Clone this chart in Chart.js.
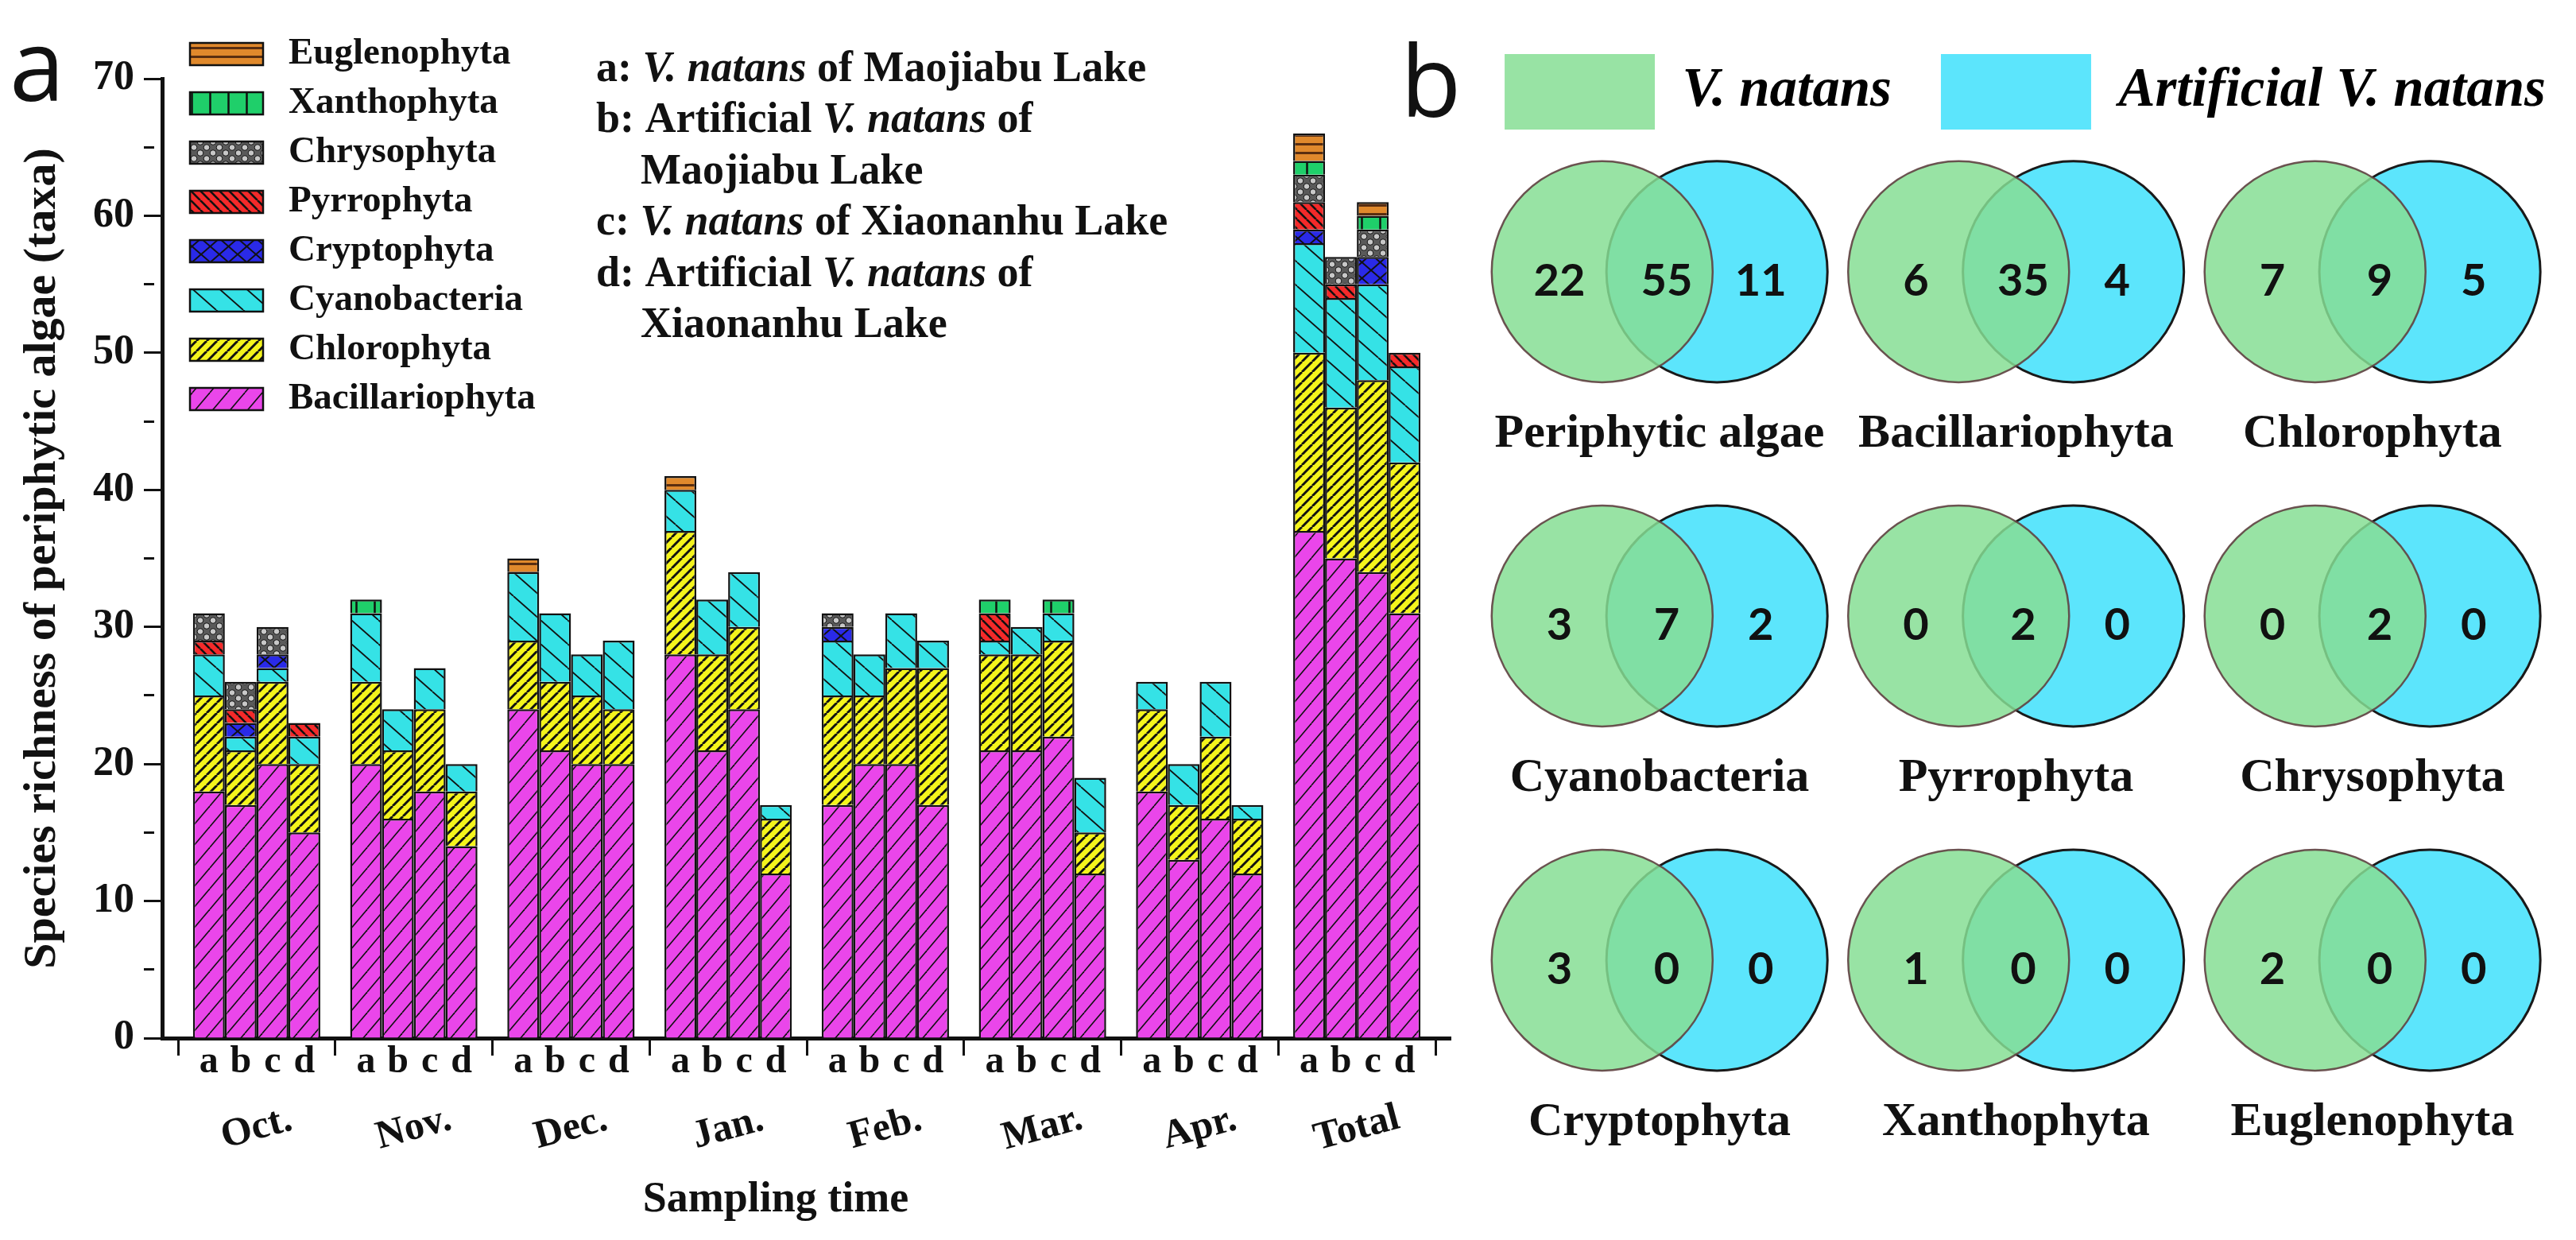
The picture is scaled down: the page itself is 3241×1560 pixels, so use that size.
<!DOCTYPE html>
<html>
<head>
<meta charset="utf-8">
<script src="https://cdn.jsdelivr.net/npm/chart.js@4/dist/chart.umd.min.js"></script>
<style>
  html, body { margin: 0; padding: 0; background: #fff; overflow: hidden; }
  #page { position: relative; width: 3241px; height: 1560px; overflow: hidden; }
  .box { position: absolute; top: 0; height: 1560px; }
</style>
</head>
<body>
<div id="page">
  <div class="box" style="left:0;width:1860px"><canvas id="barChart"></canvas></div>
  <div class="box" style="left:1700px;width:1580px"><canvas id="vennChart"></canvas></div>
</div>
<script>
const months = ['Oct.', 'Nov.', 'Dec.', 'Jan.', 'Feb.', 'Mar.', 'Apr.', 'Total']
const sites = ['a', 'b', 'c', 'd']

// one row per site (a, b, c, d), one column per month
const bacillariophyta = [
  [18, 20, 24, 28, 17, 21, 18, 37],
  [17, 16, 21, 21, 20, 21, 13, 35],
  [20, 18, 20, 24, 20, 22, 16, 34],
  [15, 14, 20, 12, 17, 12, 12, 31]
]
const chlorophyta = [
  [7, 6, 5, 9, 8, 7, 6, 13],
  [4, 5, 5, 7, 5, 7, 4, 11],
  [6, 6, 5, 6, 7, 7, 6, 14],
  [5, 4, 4, 4, 10, 3, 4, 11]
]
const cyanobacteria = [
  [3, 5, 5, 3, 4, 1, 2, 8],
  [1, 3, 5, 4, 3, 2, 3, 8],
  [1, 3, 3, 4, 4, 2, 4, 7],
  [2, 2, 5, 1, 2, 4, 1, 7]
]
const cryptophyta = [
  [0, 0, 0, 0, 1, 0, 0, 1],
  [1, 0, 0, 0, 0, 0, 0, 0],
  [1, 0, 0, 0, 0, 0, 0, 2],
  [0, 0, 0, 0, 0, 0, 0, 0]
]
const pyrrophyta = [
  [1, 0, 0, 0, 0, 2, 0, 2],
  [1, 0, 0, 0, 0, 0, 0, 1],
  [0, 0, 0, 0, 0, 0, 0, 0],
  [1, 0, 0, 0, 0, 0, 0, 1]
]
const chrysophyta = [
  [2, 0, 0, 0, 1, 0, 0, 2],
  [2, 0, 0, 0, 0, 0, 0, 2],
  [2, 0, 0, 0, 0, 0, 0, 2],
  [0, 0, 0, 0, 0, 0, 0, 0]
]
const xanthophyta = [
  [0, 1, 0, 0, 0, 1, 0, 1],
  [0, 0, 0, 0, 0, 0, 0, 0],
  [0, 0, 0, 0, 0, 1, 0, 1],
  [0, 0, 0, 0, 0, 0, 0, 0]
]
const euglenophyta = [
  [0, 0, 1, 1, 0, 0, 0, 2],
  [0, 0, 0, 0, 0, 0, 0, 0],
  [0, 0, 0, 0, 0, 0, 0, 1],
  [0, 0, 0, 0, 0, 0, 0, 0]
]

const vennGroups = ['Periphytic algae', 'Bacillariophyta', 'Chlorophyta',
  'Cyanobacteria', 'Pyrrophyta', 'Chrysophyta',
  'Cryptophyta', 'Xanthophyta', 'Euglenophyta']
const onlyNatural = [22, 6, 7, 3, 0, 0, 3, 1, 2]
const shared = [55, 35, 9, 7, 2, 2, 0, 0, 0]
const onlyArtificial = [11, 4, 5, 2, 0, 0, 0, 0, 0]

const SERIF = '"Liberation Serif", "Times New Roman", serif'
Chart.defaults.color = '#111'
Chart.defaults.font.family = SERIF

function makePattern(w, h, bg, draw) {
  const c = document.createElement('canvas')
  c.width = w
  c.height = h
  const g = c.getContext('2d')
  g.fillStyle = bg
  g.fillRect(0, 0, w, h)
  g.strokeStyle = '#111'
  draw(g, w, h)
  return g.createPattern(c, 'repeat')
}

function slash(lw) {
  return (g, w, h) => {
    g.lineWidth = lw
    for (const o of [-w, 0, w]) { g.beginPath(); g.moveTo(o, h); g.lineTo(o + w, 0); g.stroke() }
  }
}
function backslash(lw) {
  return (g, w, h) => {
    g.lineWidth = lw
    for (const o of [-w, 0, w]) { g.beginPath(); g.moveTo(o, 0); g.lineTo(o + w, h); g.stroke() }
  }
}

const phyla = [
  { name: 'Bacillariophyta', values: bacillariophyta, fill: makePattern(22, 26, '#ea46ea', slash(1.6)) },
  { name: 'Chlorophyta', values: chlorophyta, fill: makePattern(13, 13, '#f4f41c', slash(3)) },
  { name: 'Cyanobacteria', values: cyanobacteria, fill: makePattern(34, 30, '#35e2e6', backslash(1.8)) },
  { name: 'Cryptophyta', values: cryptophyta, fill: makePattern(23, 20, '#2a2ae8', (g, w, h) => { slash(2)(g, w, h); backslash(2)(g, w, h) }) },
  { name: 'Pyrrophyta', values: pyrrophyta, fill: makePattern(12, 12, '#f42a2a', backslash(2.6)) },
  { name: 'Chrysophyta', values: chrysophyta, fill: makePattern(16, 14, '#5a5a5a', (g, w, h) => {
      g.fillStyle = '#c8c8c8'
      g.lineWidth = 1
      for (const [cx, cy] of [[4, 3.5], [12, 10.5], [20, 3.5], [-4, 10.5], [4, 17.5], [12, -3.5]]) {
        g.beginPath(); g.arc(cx, cy, 3.8, 0, Math.PI * 2); g.fill(); g.stroke()
      }
    }) },
  { name: 'Xanthophyta', values: xanthophyta, fill: makePattern(23, 20, '#1fcf6a', (g, w, h) => {
      g.lineWidth = 2.5; g.beginPath(); g.moveTo(w / 2, 0); g.lineTo(w / 2, h); g.stroke()
    }) },
  { name: 'Euglenophyta', values: euglenophyta, fill: makePattern(20, 11, '#e0892c', (g, w, h) => {
      g.strokeStyle = '#5a2e10'; g.lineWidth = 3; g.beginPath(); g.moveTo(0, h / 2); g.lineTo(w, h / 2); g.stroke()
    }) }
]

const barDatasets = []
phyla.forEach(p => {
  sites.forEach((s, si) => {
    barDatasets.push({
      label: p.name,
      stack: s,
      data: p.values[si].map(v => v === 0 ? null : v),
      backgroundColor: p.fill,
      borderColor: '#111',
      borderWidth: 2.5
    })
  })
})

// categories start a little right of the y axis, as in the figure
const shiftCategories = {
  id: 'shiftCategories',
  afterLayout(chart) {
    const x = chart.scales.x
    x._startPixel += 20
    x._endPixel -= 19
    x._length = x._endPixel - x._startPixel
  }
}

function drawRuns(ctx, x, y, runs, size) {
  runs.forEach(([text, italic]) => {
    ctx.font = `${italic ? 'italic ' : ''}bold ${size}px ${SERIF}`
    ctx.fillText(text, x, y)
    x += ctx.measureText(text).width
  })
}

const notes = [
  [750, [['a: ', 0], ['V. natans', 1], [' of Maojiabu Lake', 0]]],
  [750, [['b: Artificial ', 0], ['V. natans', 1], [' of', 0]]],
  [806, [['Maojiabu Lake', 0]]],
  [750, [['c: ', 0], ['V. natans', 1], [' of Xiaonanhu Lake', 0]]],
  [750, [['d: Artificial ', 0], ['V. natans', 1], [' of', 0]]],
  [806, [['Xiaonanhu Lake', 0]]]
]

const barText = {
  id: 'barText',
  afterDraw(chart) {
    const ctx = chart.ctx
    const x = chart.scales.x
    ctx.save()
    ctx.fillStyle = '#111'

    ctx.textAlign = 'left'
    ctx.textBaseline = 'alphabetic'
    ctx.font = '125px "Open Sans"'
    ctx.fillText('a', 12, 127)

    // legend, top item first
    ctx.textBaseline = 'middle'
    phyla.slice().reverse().forEach((p, i) => {
      const cy = 68 + i * 62
      ctx.fillStyle = p.fill
      ctx.fillRect(239, cy - 14, 92, 28)
      ctx.strokeStyle = '#111'
      ctx.lineWidth = 2.5
      ctx.strokeRect(239, cy - 14, 92, 28)
      ctx.fillStyle = '#111'
      ctx.font = `bold 47px ${SERIF}`
      ctx.fillText(p.name, 363, cy)
    })

    notes.forEach(([nx, runs], i) => drawRuns(ctx, nx, 88 + i * 64.5, runs, 54))

    ctx.textAlign = 'center'
    ctx.font = `bold 48px ${SERIF}`
    sites.forEach((s, si) => {
      chart.getDatasetMeta(si).data.forEach(bar => ctx.fillText(s, bar.x, x.top + 31))
    })

    ctx.font = `bold 50px ${SERIF}`
    months.forEach((m, i) => {
      ctx.save()
      ctx.translate(x.getPixelForValue(i), x.top + 114)
      ctx.rotate(-15 * Math.PI / 180)
      ctx.fillText(m, 0, 0)
      ctx.restore()
    })

    ctx.font = `bold 54px ${SERIF}`
    ctx.fillText('Sampling time', 976, x.top + 204)
    ctx.restore()
  }
}

new Chart(document.getElementById('barChart'), {
  type: 'bar',
  data: { labels: months, datasets: barDatasets },
  plugins: [shiftCategories, barText],
  options: {
    responsive: true,
    maintainAspectRatio: false,
    animation: false,
    devicePixelRatio: 1,
    events: [],
    layout: { padding: { left: 0, top: 99, right: 35, bottom: 0 } },
    datasets: { bar: { categoryPercentage: 0.81, barPercentage: 1 } },
    plugins: { legend: { display: false }, tooltip: { enabled: false } },
    scales: {
      x: {
        stacked: true,
        ticks: { display: false },
        grid: { drawOnChartArea: false, offset: true, tickLength: 22, tickWidth: 3, tickColor: '#111' },
        border: { color: '#111', width: 5 },
        afterFit: s => { s.height = 254 }
      },
      y: {
        stacked: true,
        min: 0,
        max: 70,
        ticks: {
          stepSize: 5,
          padding: 12,
          font: { size: 52, weight: 'bold' },
          callback: v => v % 10 === 0 ? String(v) : ''
        },
        grid: {
          drawOnChartArea: false,
          tickLength: 23,
          tickWidth: 3,
          tickColor: '#111',
          tickBorderDash: c => (c.tick && c.tick.value % 10 !== 0) ? [13, 200] : []
        },
        border: { color: '#111', width: 5 },
        title: {
          display: true,
          text: 'Species richness of periphytic algae (taxa)',
          font: { size: 58, weight: 'bold' },
          padding: { top: 19, bottom: 0 }
        },
        afterFit: s => { s.width = 204 }
      }
    }
  }
})

// Venn grid: one x unit per diagram column, one y unit per diagram row
const HALF_SEP = 0.161
const VENN_R = 0.31
const vennPoint = (i, side) => ({ x: (i % 3) + side * HALF_SEP, y: Math.floor(i / 3) })

const vennText = {
  id: 'vennText',
  afterDatasetsDraw(chart) {
    const { ctx, scales: { x, y } } = chart
    ctx.save()
    ctx.fillStyle = '#111'
    ctx.textAlign = 'center'
    ctx.textBaseline = 'middle'
    vennGroups.forEach((name, i) => {
      const col = i % 3
      const row = Math.floor(i / 3)
      const ny = y.getPixelForValue(row + 0.028)
      ctx.font = 'bold 56px Lato'
      ctx.fillText(String(onlyNatural[i]), x.getPixelForValue(col - HALF_SEP - 0.12), ny)
      ctx.fillText(String(shared[i]), x.getPixelForValue(col + 0.02), ny)
      ctx.fillText(String(onlyArtificial[i]), x.getPixelForValue(col + HALF_SEP + 0.123), ny)
      ctx.font = `bold 60px ${SERIF}`
      ctx.fillText(name, x.getPixelForValue(col), y.getPixelForValue(row + 0.473))
    })
    ctx.textAlign = 'left'
    ctx.textBaseline = 'alphabetic'
    ctx.font = '125px "Open Sans"'
    ctx.fillText('b', 62, 147)
    ctx.restore()
  }
}

const vennRadius = c => {
  const s = c.chart.scales.x
  return Math.abs(s.getPixelForValue(VENN_R) - s.getPixelForValue(0))
}

new Chart(document.getElementById('vennChart'), {
  type: 'scatter',
  data: {
    datasets: [
      {
        label: 'V. natans',
        data: vennGroups.map((g, i) => vennPoint(i, -1)),
        backgroundColor: 'rgba(134, 222, 148, 0.85)',
        borderColor: 'rgba(95, 65, 65, 0.9)',
        borderWidth: 2.5,
        pointRadius: vennRadius,
        legendColor: '#98e3a4'
      },
      {
        label: 'Artificial V. natans',
        data: vennGroups.map((g, i) => vennPoint(i, 1)),
        backgroundColor: '#5ce5fc',
        borderColor: '#1a1a1a',
        borderWidth: 3,
        pointRadius: vennRadius,
        legendColor: '#5ce5fc'
      }
    ]
  },
  plugins: [vennText],
  options: {
    responsive: true,
    maintainAspectRatio: false,
    animation: false,
    devicePixelRatio: 1,
    events: [],
    layout: { padding: { left: 116, top: 6, right: 0, bottom: 0 } },
    plugins: {
      tooltip: { enabled: false },
      legend: {
        position: 'top',
        align: 'center',
        labels: {
          boxWidth: 189,
          boxHeight: 95,
          padding: 62,
          color: '#111',
          font: { size: 69, weight: 'bold', style: 'italic' },
          generateLabels: chart => chart.data.datasets.map((ds, i) => ({
            text: ds.label,
            fillStyle: ds.legendColor,
            strokeStyle: 'rgba(0,0,0,0)',
            lineWidth: 0,
            hidden: false,
            datasetIndex: i
          }))
        }
      }
    },
    scales: {
      x: { type: 'linear', display: false, min: -0.6065, max: 2.658 },
      y: { type: 'linear', display: false, reverse: true, min: -0.39, max: 2.813 }
    }
  }
})
</script>
</body>
</html>
